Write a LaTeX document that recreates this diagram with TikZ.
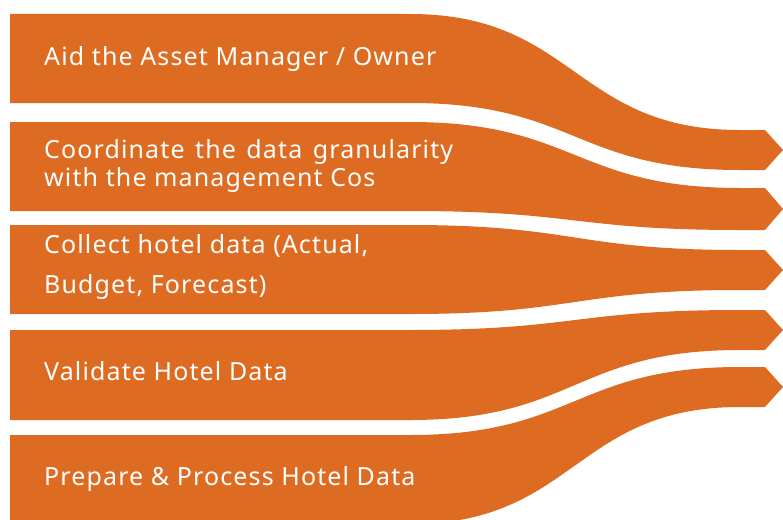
\documentclass[tikz,border=0pt]{standalone}
\usepackage{fontspec}
\setmainfont[LetterSpace=4.5]{Noto Sans}
\usetikzlibrary{shapes,arrows,positioning,calc}
\definecolor{bandorange}{RGB}{222,107,34}

\tikzset{
  band/.style={fill=bandorange},
  label text/.style={text=white, anchor=base west, inner sep=0pt, font=\fontsize{25}{29}\selectfont}
}

\begin{document}
\begin{tikzpicture}[x=1pt, y=-1pt]
    \useasboundingbox (0,0) rectangle (783,519);
    \clip (0,0) rectangle (783,519);

    % ribbons: left top / left bottom / right top / right bottom
    \foreach \tl/\bl/\tr/\br in {14/103/130/170, 122/211/188/230, 225/314/250/290, 330/420/310/350, 435/524/367/407}
        \fill[band] (10,\tl) -- (410,\tl) .. controls (575,\tl) and (575,\tr) .. (740,\tr) -- (765,\tr)
            -- (783,{(\tr+\br)/2}) -- (765,\br) -- (740,\br) .. controls (575,\br) and (575,\bl) .. (410,\bl)
            -- (10,\bl) -- cycle;

    \node (aid) [label text] at (44,65) {Aid the Asset Manager / Owner};
    \node (coordA) [label text] at (44,158) {\makebox[409pt][s]{Coordinate the data granularity}};
    \node (coordB) [label text] at (44,186) {with the management Cos};
    \node (collectA) [label text] at (44,253) {Collect hotel data (Actual,};
    \node (collectB) [label text] at (44,293) {Budget, Forecast)};
    \node (validate) [label text] at (44,380) {Validate Hotel Data};
    \node (prepare) [label text] at (44,485) {Prepare \& Process Hotel Data};
\end{tikzpicture}
\end{document}
